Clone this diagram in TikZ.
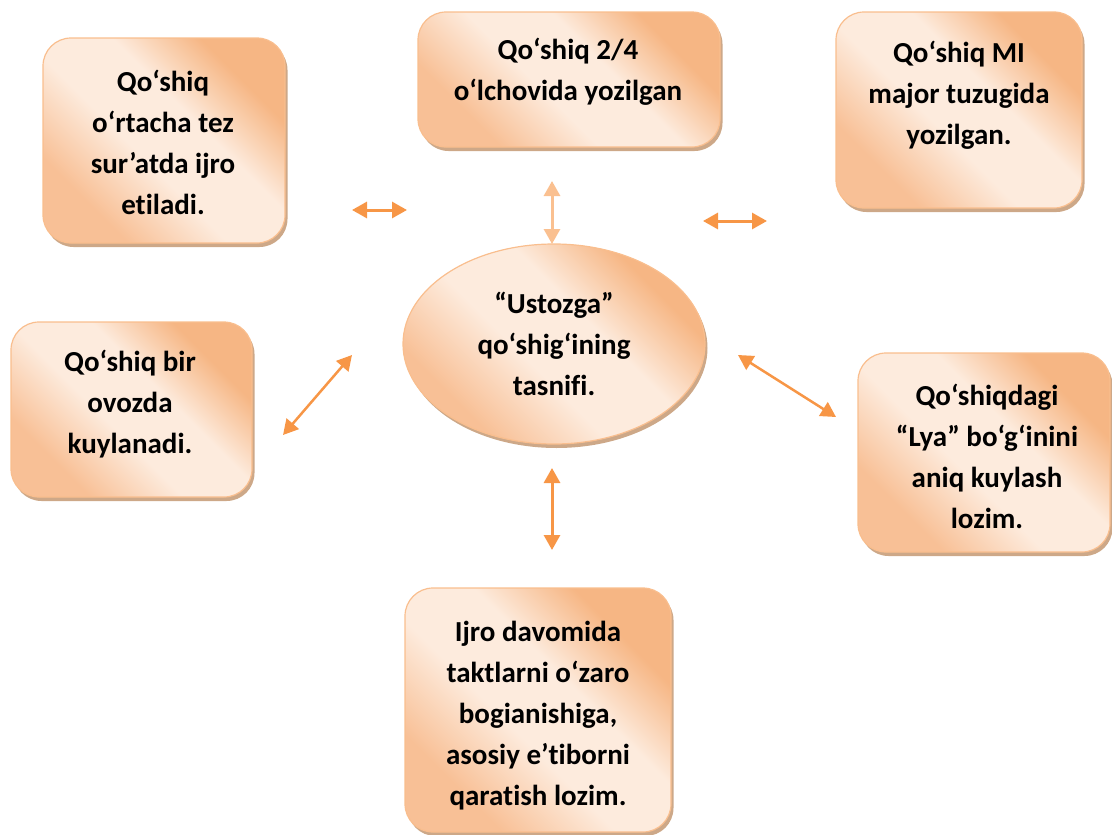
\documentclass[tikz,border=0pt]{standalone}
\usepackage{fontspec}
\setmainfont{Carlito}[Ligatures=NoCommon]
\usetikzlibrary{arrows.meta,shapes.geometric,shadows}
\definecolor{ordark}{RGB}{246,182,132}
\definecolor{orlight}{RGB}{253,235,221}
\definecolor{ormid}{RGB}{248,192,150}
\definecolor{orborder}{RGB}{249,190,142}
\definecolor{shadowc}{RGB}{205,168,136}
\definecolor{arrowc}{RGB}{247,150,70}
\definecolor{arrowlt}{RGB}{250,192,144}
\pgfdeclarehorizontalshading{boxshade}{100bp}{color(0bp)=(ormid); color(28bp)=(ormid); color(44bp)=(orlight); color(58bp)=(orlight); color(72bp)=(ordark); color(100bp)=(ordark)}
\tikzset{
  shapebase/.style={draw=orborder, line width=1.2pt, shading=boxshade, shading angle=45, inner sep=0pt,
    drop shadow={shadow xshift=2.5pt, shadow yshift=-4pt, fill=shadowc, opacity=1}},
  boxshape/.style={shapebase, rectangle, rounded corners=28pt},
  ellshape/.style={shapebase, ellipse},
  txt/.style={align=center, font=\fontsize{29}{41}\selectfont\bfseries, inner sep=0pt, text=black},
  arr/.style={line width=3pt, draw=arrowc, {Triangle[length=15pt,width=16pt]}-{Triangle[length=15pt,width=16pt]}},
}
\begin{document}
\begin{tikzpicture}[x=1pt,y=-1pt]
\useasboundingbox (0,0) rectangle (1112,835);
% boxes
\node[boxshape, minimum width=242pt, minimum height=205pt] (b1) at (164,140.5) {};
\node[boxshape, minimum width=302pt, minimum height=135pt] (b2) at (569,79.5) {};
\node[boxshape, minimum width=246pt, minimum height=196pt] (b3) at (959,110) {};
\node[boxshape, minimum width=241pt, minimum height=175pt] (b4) at (131.5,409.5) {};
\node[boxshape, minimum width=252pt, minimum height=199pt] (b5) at (984,452.5) {};
\node[boxshape, minimum width=266pt, minimum height=244pt] (b6) at (538,710) {};
\node[ellshape, minimum width=302pt, minimum height=200pt] (ell) at (554,344) {};
% texts
\node[txt] (t1) at (163,142) {Qo‘shiq\\o‘rtacha tez\\sur’atda ijro\\etiladi.};
\node[txt] (t2) at (568,72) {Qo‘shiq 2/4\\o‘lchovida yozilgan};
\node[txt] (t3) at (959,95) {Qo‘shiq MI\\major tuzugida\\yozilgan.};
\node[txt] (t4) at (130,404) {Qo‘shiq bir\\ovozda\\kuylanadi.};
\node[txt] (t5) at (987,456.5) {Qo‘shiqdagi\\“Lya” bo‘g‘inini\\aniq kuylash\\lozim.};
\node[txt] (t6) at (538,716) {Ijro davomida\\taktlarni o‘zaro\\bogianishiga,\\asosiy e’tiborni\\qaratish lozim.};
\node[txt] (te) at (554,344) {“Ustozga”\\qo‘shig‘ining\\tasnifi.};
% arrow ends
\coordinate (a1s) at (352,210); \coordinate (a1e) at (407,210);
\coordinate (a2s) at (552,181); \coordinate (a2e) at (552,244);
\coordinate (a3s) at (703,221); \coordinate (a3e) at (767,221);
\coordinate (a4s) at (283,435); \coordinate (a4e) at (352,355);
\coordinate (a5s) at (738,355); \coordinate (a5e) at (836,417);
\coordinate (a6s) at (552,468); \coordinate (a6e) at (552,550);
\draw[arr] (a1s) -- (a1e);
\draw[arr, draw=arrowlt] (a2s) -- (a2e);
\draw[arr] (a3s) -- (a3e);
\draw[arr, line width=2.5pt] (a4s) -- (a4e);
\draw[arr, line width=2.5pt] (a5s) -- (a5e);
\draw[arr] (a6s) -- (a6e);
\end{tikzpicture}
\end{document}
